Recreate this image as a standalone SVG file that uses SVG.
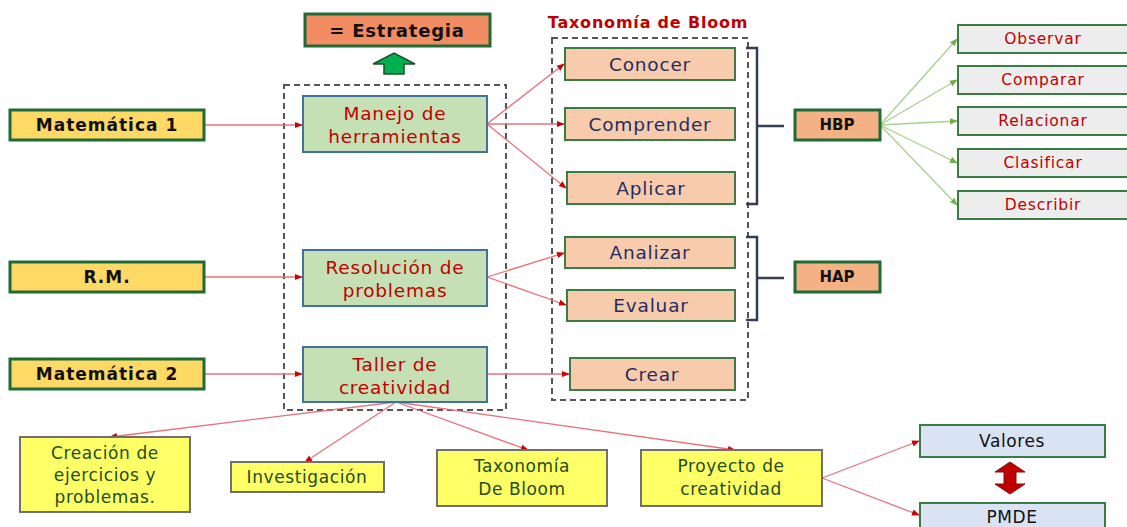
<svg xmlns="http://www.w3.org/2000/svg" width="1127" height="527" viewBox="0 0 1127 527">
<defs>
<style>
text{font-family:"DejaVu Sans","Open Sans",sans-serif;text-anchor:middle;dominant-baseline:central}
.src rect{fill:#FFD966;stroke:#1F6B35;stroke-width:3}
.src text{font-size:17px;font-weight:bold;fill:#111;letter-spacing:1px}
.mid rect{fill:#C5E0B4;stroke:#41719C;stroke-width:2}
.mid text{font-size:18.5px;fill:#C00000;letter-spacing:0.8px}
.blm rect{fill:#F8CBAD;stroke:#3A7D44;stroke-width:2}
.blm text{font-size:18.5px;fill:#1F2E5F;letter-spacing:0.8px}
.hb rect{fill:#F4B183;stroke:#1F6B35;stroke-width:3}
.hb text{font-size:15px;font-weight:bold;fill:#111}
.skl rect{fill:#EDEDED;stroke:#3A7D44;stroke-width:2}
.skl text{font-size:15.5px;fill:#C00000;letter-spacing:0.8px}
.bot rect{fill:#FFFF66;stroke:#707070;stroke-width:2}
.bot text{font-size:17px;fill:#1E4D1E;letter-spacing:0.6px}
.val rect{fill:#DAE3F3;stroke:#3A7D44;stroke-width:2}
.val text{font-size:17px;fill:#111;letter-spacing:0.6px}
.dash{fill:none;stroke:#555;stroke-width:2;stroke-dasharray:6 4}
.red{stroke:#E8707A;stroke-width:1.3;fill:none;marker-end:url(#ar)}
.grn{stroke:#A9D18E;stroke-width:1.3;fill:none;marker-end:url(#ag)}
.brk{stroke:#333F50;stroke-width:2.5;fill:none}
</style>
<marker id="ar" viewBox="0 0 10 10" refX="9" refY="5" markerWidth="6" markerHeight="6" orient="auto"><path d="M0,1 L10,5 L0,9 z" fill="#D00000"/></marker>
<marker id="ag" viewBox="0 0 10 10" refX="9" refY="5" markerWidth="6" markerHeight="6" orient="auto"><path d="M0,1 L10,5 L0,9 z" fill="#70AD47"/></marker>
</defs>
<rect width="1127" height="527" fill="#fff"/>

<g id="estrategia" class="hb">
<rect x="305" y="14" width="185" height="32" style="fill:#F28C63"/>
<text x="397" y="30" style="font-size:18px;letter-spacing:0.8px">= Estrategia</text>
</g>
<path id="up-arrow" d="M373,64 L394,53 L415,64 L404,64 L404,74 L384,74 L384,64 Z" fill="#00B050" stroke="#1E4D2B" stroke-width="1.5"/>
<text x="648" y="22" style="font-size:16px;font-weight:bold;fill:#C00000;letter-spacing:0.8px">Taxonomía de Bloom</text>

<rect class="dash" x="284" y="85" width="222" height="325"/>
<rect class="dash" x="552" y="38" width="196" height="362"/>

<g id="connectors">
<path class="red" d="M204,125 L302,125"/>
<path class="red" d="M204,277 L302,277"/>
<path class="red" d="M204,374 L302,374"/>
<path class="red" d="M487,124 L564,64"/>
<path class="red" d="M487,124 L564,124"/>
<path class="red" d="M487,124 L566,188"/>
<path class="red" d="M487,277 L564,253"/>
<path class="red" d="M487,277 L566,305"/>
<path class="red" d="M487,374 L569,374"/>
<path class="grn" d="M880,125 L957,39"/>
<path class="grn" d="M880,125 L957,80"/>
<path class="grn" d="M880,125 L957,121"/>
<path class="grn" d="M880,125 L957,163"/>
<path class="grn" d="M880,125 L957,205"/>
<path class="red" d="M396,402 L110,437"/>
<path class="red" d="M396,402 L305,462"/>
<path class="red" d="M396,402 L528,450"/>
<path class="red" d="M396,402 L735,450"/>
<path class="red" d="M822,478 L919,441"/>
<path class="red" d="M822,478 L919,515"/>
<path class="brk" d="M746,48 L757,48 L757,204 L746,204 M757,126 L784,126"/>
<path class="brk" d="M746,237 L757,237 L757,320 L746,320 M757,278 L784,278"/>
<path d="M1010,462 L1025,472 L1016,472 L1016,484 L1025,484 L1010,494 L995,484 L1004,484 L1004,472 L995,472 Z" fill="#C00000" stroke="#7F1010" stroke-width="1"/>
</g>

<g id="mat1" class="src"><rect x="10" y="110" width="194" height="30"/><text x="107" y="125">Matemática 1</text></g>
<g id="rm" class="src"><rect x="10" y="262" width="194" height="30"/><text x="107" y="277">R.M.</text></g>
<g id="mat2" class="src"><rect x="10" y="359" width="194" height="30"/><text x="107" y="374">Matemática 2</text></g>

<g id="manejo" class="mid"><rect x="303" y="96" width="184" height="56"/><text x="395" y="113">Manejo de</text><text x="395" y="136">herramientas</text></g>
<g id="resolucion" class="mid"><rect x="303" y="250" width="184" height="56"/><text x="395" y="267">Resolución de</text><text x="395" y="290">problemas</text></g>
<g id="taller" class="mid"><rect x="303" y="347" width="184" height="55"/><text x="395" y="364">Taller de</text><text x="395" y="387">creatividad</text></g>

<g id="conocer" class="blm"><rect x="565" y="48" width="170" height="32"/><text x="650" y="64">Conocer</text></g>
<g id="comprender" class="blm"><rect x="565" y="108" width="170" height="32"/><text x="650" y="124">Comprender</text></g>
<g id="aplicar" class="blm"><rect x="567" y="172" width="168" height="32"/><text x="651" y="188">Aplicar</text></g>
<g id="analizar" class="blm"><rect x="565" y="237" width="170" height="31"/><text x="650" y="252">Analizar</text></g>
<g id="evaluar" class="blm"><rect x="567" y="290" width="168" height="31"/><text x="651" y="305">Evaluar</text></g>
<g id="crear" class="blm"><rect x="570" y="358" width="165" height="32"/><text x="652" y="374">Crear</text></g>

<g id="hbp" class="hb"><rect x="795" y="110" width="85" height="30"/><text x="837" y="125">HBP</text></g>
<g id="hap" class="hb"><rect x="795" y="262" width="85" height="30"/><text x="837" y="277">HAP</text></g>

<g id="observar" class="skl"><rect x="958" y="25" width="180" height="28"/><text x="1043" y="39">Observar</text></g>
<g id="comparar" class="skl"><rect x="958" y="66" width="180" height="28"/><text x="1043" y="80">Comparar</text></g>
<g id="relacionar" class="skl"><rect x="958" y="107" width="180" height="28"/><text x="1043" y="121">Relacionar</text></g>
<g id="clasificar" class="skl"><rect x="958" y="149" width="180" height="28"/><text x="1043" y="163">Clasificar</text></g>
<g id="describir" class="skl"><rect x="958" y="191" width="180" height="28"/><text x="1043" y="205">Describir</text></g>

<g id="creacion" class="bot"><rect x="20" y="437" width="170" height="75"/><text x="105" y="453">Creación de</text><text x="105" y="475">ejercicios y</text><text x="105" y="497">problemas.</text></g>
<g id="investigacion" class="bot"><rect x="231" y="462" width="153" height="30"/><text x="307" y="477">Investigación</text></g>
<g id="taxonomia" class="bot"><rect x="437" y="450" width="170" height="56"/><text x="522" y="466">Taxonomía</text><text x="522" y="489">De Bloom</text></g>
<g id="proyecto" class="bot"><rect x="641" y="450" width="181" height="56"/><text x="731" y="466">Proyecto de</text><text x="731" y="489">creatividad</text></g>

<g id="valores" class="val"><rect x="920" y="425" width="185" height="32"/><text x="1012" y="441">Valores</text></g>
<g id="pmde" class="val"><rect x="920" y="503" width="185" height="32"/><text x="1012" y="517">PMDE</text></g>
</svg>
